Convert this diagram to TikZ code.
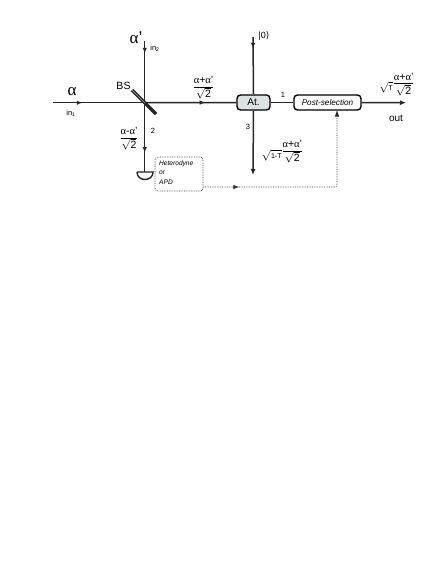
\documentclass[tikz,border=0pt]{standalone}
\usepackage{fontspec}
\setmainfont{Liberation Sans}
\usepackage{amsmath}
\usetikzlibrary{arrows.meta,decorations.markings}
\newfontfamily\symf{DejaVu Sans}
\newfontfamily\grk{Liberation Serif}
\newcommand{\ga}{{\grk α}}
\newcommand{\fracab}[1]{\begin{tabular}{@{}c@{}}\rule[-1.5pt]{0pt}{8pt}\ga#1\ga'\\\noalign{\hrule height 0.9pt}\rule{0pt}{9.5pt}$\sqrt{\text{2}}$\end{tabular}}
\newcommand{\rootof}[1]{\raisebox{-3pt}{$\sqrt{\text{\fontsize{7}{8}\selectfont #1}}$}\hspace{1pt}}
\tikzset{
  x=1pt,y=-1pt,
  beam/.style={line width=1.5pt,draw=black!85},
  midarrow/.style={postaction={decorate},decoration={markings,mark=at position #1 with {\arrow{Latex[length=5.5pt,width=4.5pt]}}}},
  tipend/.style={-{Latex[length=6pt,width=5pt]}},
  lab/.style={inner sep=0pt,font=\fontsize{7.5}{8}\selectfont},
  formula/.style={inner sep=0pt,font=\fontsize{10.5}{11}\selectfont},
  roundbox/.style={draw=black,line width=1.4pt,rounded corners=3.5pt,inner sep=0pt},
  dots/.style={draw=black!80,line width=0.7pt,densely dotted},
}
\begin{document}
\begin{tikzpicture}
\useasboundingbox (0,0) rectangle (447,578);
\fill[white] (0,0) rectangle (447,578);
\coordinate (inA) at (53,102.7);
\coordinate (bsc) at (144.7,102.7);
\coordinate (inB) at (144.7,41);
\coordinate (detTop) at (144.7,172);
\coordinate (bsa) at (132,90);
\coordinate (bsb) at (156,114);
\coordinate (vac) at (253,37);
\coordinate (loss) at (253,175);
\coordinate (outp) at (406,102.7);
\coordinate (corner) at (337,187);
\coordinate (detL) at (137,172);
\coordinate (detR) at (153,172);
\definecolor{atfill}{HTML}{DCE3E3}
\node[roundbox,fill=atfill,minimum width=33pt,minimum height=15pt] (at) at (253.5,102.5) {\fontsize{10}{11}\selectfont At.};
\node[roundbox,fill=white,minimum width=67pt,minimum height=15pt] (post) at (327.5,102.5) {\fontsize{8.2}{9}\selectfont\itshape Post-selection};
\node[dots,rounded corners=3pt,minimum width=48pt,minimum height=34pt,inner sep=0pt] (det) at (179,174) {};
\node[inner sep=0pt,anchor=north west,align=left,font=\fontsize{6.6}{9.4}\selectfont\itshape] (dettext) at (159,160.5) {Heterodyne\\or\\APD};
\draw[beam,midarrow=0.32] (inA) -- (bsc);
\draw[beam,midarrow=0.66] (bsc) -- (at.west);
\draw[beam] (at.east) -- (post.west);
\draw[beam,tipend] (post.east) -- (outp);
\draw[beam,midarrow=0.2] (inB) -- (bsc);
\draw[beam,midarrow=0.72] (bsc) -- (detTop);
\draw[beam,midarrow=0.2] (vac) -- (at.north);
\draw[beam,tipend] (at.south) -- (loss);
% beam splitter
\draw[line width=3.4pt,draw=black!85] (bsa) -- (bsb);
\draw[line width=0.7pt,draw=black!35] (bsa) -- (bsc);
% detector
\draw[line width=1.4pt,draw=black!85] (detL) -- (detR) .. controls (153,182) and (137,182) .. (detL);
% feedback
\draw[dots,rounded corners=2.5pt,midarrow=0.17] (det.east |- corner) -- (corner) -- (corner |- post.south);
\fill[black!85] (corner |- post.south) -- ++(2.2,6) -- ++(-4.4,0) -- cycle;
% labels
\node[inner sep=0pt,font=\fontsize{17}{18}\selectfont] (la) at (72,92) {\ga};
\node[lab] (lin1) at (71,113) {in$_{\text{1}}$};
\node[inner sep=0pt,font=\fontsize{17}{18}\selectfont] (lb) at (136,38) {\ga'};
\node[lab] (lin2) at (155,48) {in$_{\text{2}}$};
\node[inner sep=0pt,font=\fontsize{10.5}{12}\selectfont] (lbs) at (123.5,86) {BS};
\node[formula] (f1) at (203.5,88.5) {\fracab{+}};
\node[formula] (f2) at (129,139.5) {\fracab{-}};
\node[lab] (l2) at (153,130.5) {2};
\node[lab] (l1) at (283,94.5) {1};
\node[lab] (l3) at (248,127) {3};
\node[inner sep=0pt,font=\fontsize{9}{10}\selectfont] (l0) at (264,36) {|0{\symf ⟩}};
\node[formula] (f3) at (282,152.5) {\rootof{1-T}\fracab{+}};
\node[formula] (f4) at (396.5,85) {\rootof{T}\fracab{+}};
\node[inner sep=0pt,font=\fontsize{10}{11}\selectfont] (lout) at (396,118) {out};
\end{tikzpicture}
\end{document}
